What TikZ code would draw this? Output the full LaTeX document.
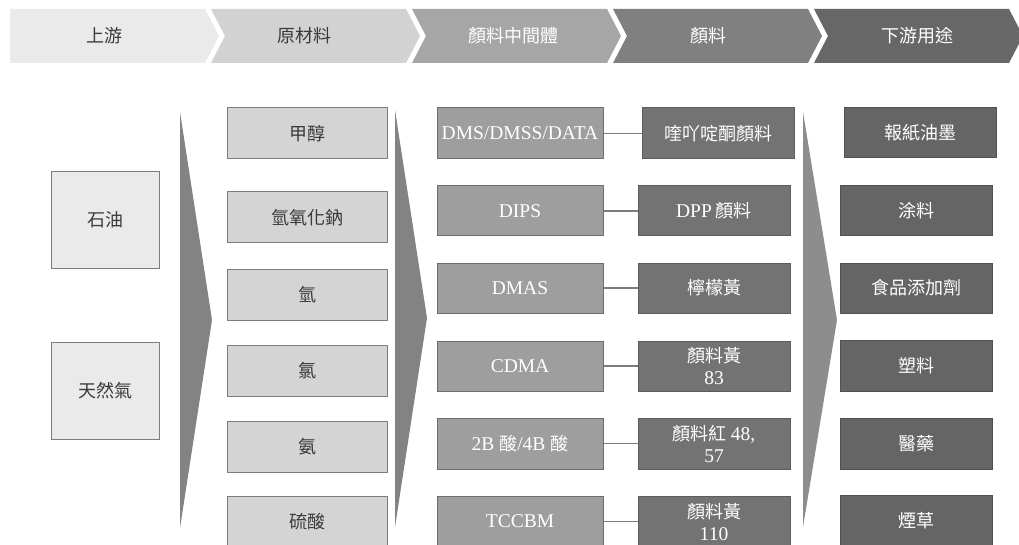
\documentclass[tikz,border=0pt]{standalone}
\usepackage{fontspec}
\setmainfont{Liberation Serif}
\newfontfamily\cjk{Noto Sans CJK TC}
\definecolor{hA}{HTML}{EAEAEA}
\definecolor{hB}{HTML}{D2D2D2}
\definecolor{hC}{HTML}{A6A6A6}
\definecolor{hD}{HTML}{808080}
\definecolor{hE}{HTML}{676767}
\definecolor{txtdark}{HTML}{3A3A3A}
\definecolor{bigarrow}{HTML}{838383}
\definecolor{srcfill}{HTML}{EAEAEA}
\definecolor{rawfill}{HTML}{D4D4D4}
\definecolor{midfill}{HTML}{9E9E9E}
\definecolor{pigfill}{HTML}{737373}
\definecolor{usefill}{HTML}{656565}
\definecolor{edge}{HTML}{7C7C7C}
\newcommand{\lt}[1]{{\fontspec{Liberation Serif}\fontsize{19.5}{22}\selectfont #1}}
\newcommand{\cj}[1]{{\cjk\fontsize{18}{22}\selectfont #1}}
\begin{document}
\begin{tikzpicture}[x=1pt,y=-1pt,
  htext/.style={inner sep=0pt, font=\cjk\fontsize{18}{22}\selectfont},
  basebox/.style={draw=edge, line width=1pt, inner sep=0pt, align=center, minimum height=51pt},
  srcbox/.style={basebox, fill=srcfill, text=txtdark, minimum width=108pt, font=\cjk\fontsize{18}{22}\selectfont},
  rawbox/.style={basebox, fill=rawfill, text=txtdark, minimum width=160pt, font=\cjk\fontsize{18}{22}\selectfont},
  midbox/.style={basebox, fill=midfill, draw=hD!85!black, text=white, minimum width=166pt, font=\fontsize{19.5}{22}\selectfont},
  pigbox/.style={basebox, fill=pigfill, draw=pigfill!80!black, text=white, minimum width=152pt, font=\cjk\fontsize{18}{22}\selectfont},
  usebox/.style={basebox, fill=usefill, draw=usefill!80!black, text=white, minimum width=152pt, font=\cjk\fontsize{18}{22}\selectfont},
  conn/.style={draw=edge, line width=1.2pt}
]
\useasboundingbox (0,0) rectangle (1019,545);
\clip (0,0) rectangle (1019,545);
\fill[white] (0,0) rectangle (1019,545);

% header chevrons
\fill[hA] (10,9) -- (205,9) -- (219,36) -- (205,63) -- (10,63) -- cycle;
\fill[hB] (211,9) -- (406,9) -- (420,36) -- (406,63) -- (211,63) -- (225,36) -- cycle;
\fill[hC] (412,9) -- (607,9) -- (621,36) -- (607,63) -- (412,63) -- (426,36) -- cycle;
\fill[hD] (613,9) -- (808,9) -- (822,36) -- (808,63) -- (613,63) -- (627,36) -- cycle;
\fill[hE] (814,9) -- (1009,9) -- (1023,36) -- (1009,63) -- (814,63) -- (828,36) -- cycle;
\node[htext, text=txtdark] (h1) at (104,36) {上游};
\node[htext, text=txtdark] (h2) at (304,36) {原材料};
\node[htext, text=white] (h3) at (513,36) {顏料中間體};
\node[htext, text=white] (h4) at (708,36) {顏料};
\node[htext, text=white] (h5) at (917,36) {下游用途};

% big arrows
\fill[bigarrow] (180,112) -- (212,320) -- (180,528) -- cycle;
\fill[bigarrow] (395,110) -- (427,318) -- (395,527) -- cycle;
\fill[bigarrow!92!white] (803,112) -- (837,320) -- (803,527) -- cycle;

% sources
\node[srcbox, minimum height=96pt] (s1) at (105,220) {石油};
\node[srcbox, minimum height=97pt] (s2) at (105,390.5) {天然氣};

% raw materials
\node[rawbox] (r1) at (307,133.5) {甲醇};
\node[rawbox] (r2) at (307,217.5) {氫氧化鈉};
\node[rawbox] (r3) at (307,294.5) {氫};
\node[rawbox] (r4) at (307,370.5) {氯};
\node[rawbox] (r5) at (307,446.5) {氨};
\node[rawbox] (r6) at (307,521.5) {硫酸};

% intermediates
\node[midbox] (m1) at (520,133.5) {DMS/DMSS/DATA};
\node[midbox, minimum height=50pt] (m2) at (520,211) {DIPS};
\node[midbox, minimum height=50pt] (m3) at (520,288) {DMAS};
\node[midbox, minimum height=50pt] (m4) at (520,366) {CDMA};
\node[midbox] (m5) at (520,443.5) {2B \cj{酸}/4B \cj{酸}};
\node[midbox] (m6) at (520,521.5) {TCCBM};

% pigments
\node[pigbox] (p1) at (718,133.5) {喹吖啶酮顏料};
\node[pigbox, minimum height=50pt] (p2) at (714,211) {\lt{DPP} 顏料};
\node[pigbox, minimum height=50pt] (p3) at (714,288) {檸檬黃};
\node[pigbox, minimum height=50pt] (p4) at (714,366) {顏料黃\\\lt{83}};
\node[pigbox] (p5) at (714,443.5) {顏料紅 \lt{48,}\\\lt{57}};
\node[pigbox] (p6) at (714,521.5) {顏料黃\\\lt{110}};

% connectors
\draw[conn] (m1.east) -- (p1.west);
\draw[conn] (m2.east) -- (p2.west);
\draw[conn] (m3.east) -- (p3.west);
\draw[conn] (m4.east) -- (p4.west);
\draw[conn] (m5.east) -- (p5.west);
\draw[conn] (m6.east) -- (p6.west);

% downstream uses
\node[usebox, minimum height=50pt] (u1) at (920,133) {報紙油墨};
\node[usebox, minimum height=50pt] (u2) at (916,211) {涂料};
\node[usebox, minimum height=50pt] (u3) at (916,288) {食品添加劑};
\node[usebox] (u4) at (916,365.5) {塑料};
\node[usebox] (u5) at (916,443.5) {醫藥};
\node[usebox] (u6) at (916,520.5) {煙草};
\end{tikzpicture}
\end{document}
